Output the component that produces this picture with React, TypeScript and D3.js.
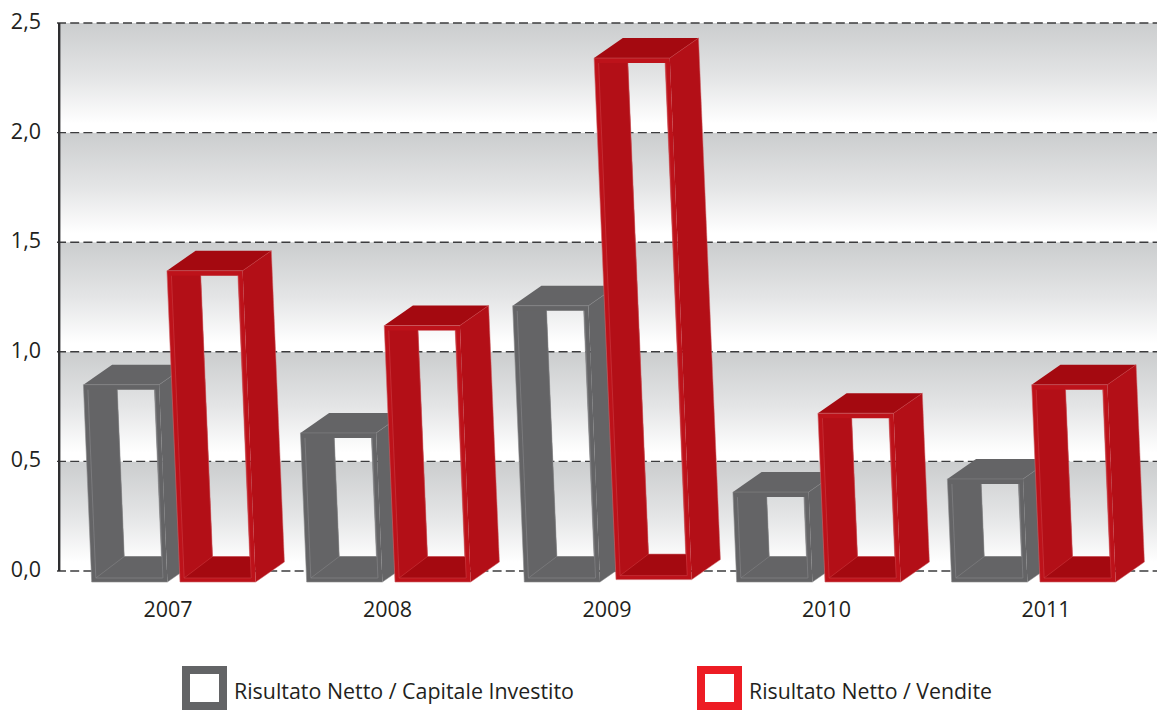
import React from "react";
import * as d3 from "d3";

// Values of the two ratios per year
const years = ["2007", "2008", "2009", "2010", "2011"];
const capitaleValues = [0.85, 0.63, 1.21, 0.36, 0.42];
const venditeValues = [1.37, 1.12, 2.34, 0.72, 0.85];
const yTicks = [0, 0.5, 1, 1.5, 2, 2.5];
const legendLabels = ["Risultato Netto / Capitale Investito", "Risultato Netto / Vendite"];

const WIDTH = 1157;
const HEIGHT = 711;
const FONT = "'Open Sans', 'Noto Sans', sans-serif";
const TEXT = "#231f20";

const y = d3.scaleLinear().domain([0, 2.5]).range([571, 23]);
const baseX = d3.scalePoint<string>().domain(years).range([91.7, 951.7]);
const labelX = d3.scalePoint<string>().domain(years).range([168, 1046]);
const fmt = (v: number) => d3.format(".1f")(v).replace(".", ",");

// Box proportions: every box leans to the left as it rises
const LEAN = 0.042;
const FRONT_W = 75.7;
const DEPTH_X = 28.7;
const DEPTH_Y = -20;
const FLOOR_Y = 582;
const SERIES_GAP = 88.3;

type Pt = [number, number];
const poly = d3.line<Pt>().curve(d3.curveLinearClosed);
const open = d3.line<Pt>();

interface Palette {
  wall: string;
  top: string;
  floor: string;
  frame: string;
  edge: string;
  inset: string;
}

const GREY: Palette = {
  wall: "#646466",
  top: "#646466",
  floor: "#646466",
  frame: "#646466",
  edge: "#8a8a8c",
  inset: "#848486",
};
const RED: Palette = {
  wall: "#b30f17",
  top: "#a40910",
  floor: "#a40910",
  frame: "#bd121a",
  edge: "#cd6469",
  inset: "#c9373d",
};

function FrameBox({
  value,
  left,
  floor,
  colors,
}: {
  value: number;
  left: number;
  floor: number;
  colors: Palette;
}) {
  const top = y(value);
  const at = (dx: number, py: number): Pt => [left + dx - LEAN * (floor - py), py];

  const TL = at(0, top);
  const TR = at(FRONT_W, top);
  const BL = at(0, floor);
  const BR = at(FRONT_W, floor);
  const back = (p: Pt): Pt => [p[0] + DEPTH_X, p[1] + DEPTH_Y];

  const insetTop = top + 5;
  const insetBottom = floor - 4;
  const iTL = at(4.3, insetTop);
  const iTR = at(FRONT_W - 4.3, insetTop);
  const iBL = at(4.3, insetBottom);
  const iBR = at(FRONT_W - 4.3, insetBottom);

  // Opening seen straight through the box
  const holeBottom = floor - 25.5;
  const hTL = at(33.6, insetTop);
  const hTR = at(70.8, insetTop);
  const hBL = at(33.6, holeBottom);
  const hBR = at(70.8, holeBottom);

  const ring = `${poly([TL, TR, BR, BL])} ${poly([hTL, hTR, hBR, hBL])}`;

  return (
    <g>
      <path d={poly([TR, back(TR), back(BR), BR])!} fill={colors.wall} />
      <path d={poly([TL, back(TL), back(TR), TR])!} fill={colors.top} />
      <path d={ring} fill={colors.frame} fillRule="evenodd" />
      <path d={poly([iTL, hTL, hBL, iBL])!} fill={colors.wall} />
      <path d={poly([iBL, hBL, hBR, iBR])!} fill={colors.floor} />
      <path d={open([TL, BL, BR])!} fill="none" stroke={colors.edge} strokeWidth={0.6} />
      <path d={open([hTL, hBL, hBR, hTR])!} fill="none" stroke={colors.edge} strokeWidth={0.6} />
      <path d={open([back(TR), back(BR), BR])!} fill="none" stroke={colors.edge} strokeWidth={0.5} />
      <path d={open([iTL, iBL, iBR, iTR])!} fill="none" stroke={colors.inset} strokeWidth={0.7} />
      <path d={open([iBL, hBL])!} fill="none" stroke={colors.inset} strokeWidth={0.6} />
      <path d={open([TR, back(TR)])!} fill="none" stroke={colors.inset} strokeWidth={0.6} />
      <path d={open([TL, TR])!} fill="none" stroke={colors.edge} strokeWidth={0.5} />
    </g>
  );
}

export default function App() {
  const bands = d3.pairs(yTicks);
  return (
    <svg
      width={WIDTH}
      height={HEIGHT}
      viewBox={`0 0 ${WIDTH} ${HEIGHT}`}
      style={{ position: "absolute", left: 0, top: 0, display: "block", background: "#fff" }}
    >
      <defs>
        <linearGradient id="bandFill" x1="0" y1="0" x2="0" y2="1">
          <stop offset="0" stopColor="#cbcdce" />
          <stop offset="0.5" stopColor="#e4e5e6" />
          <stop offset="0.92" stopColor="#ffffff" />
          <stop offset="1" stopColor="#ffffff" />
        </linearGradient>
      </defs>

      {bands.map(([lo, hi]) => (
        <rect key={hi} x={60} y={y(hi)} width={WIDTH - 60} height={y(lo) - y(hi)} fill="url(#bandFill)" />
      ))}

      {yTicks.map((t) => (
        <g key={t}>
          <line
            x1={57}
            x2={WIDTH}
            y1={y(t)}
            y2={y(t)}
            stroke="#3c3c3e"
            strokeWidth={1.4}
            strokeDasharray="9 4.2"
          />
          <text x={41} y={y(t) + 6} textAnchor="end" fontFamily={FONT} fontSize={21.5} fill={TEXT}>
            {fmt(t)}
          </text>
        </g>
      ))}
      <line x1={59.2} x2={59.2} y1={y(2.5)} y2={y(0)} stroke="#2e2e30" strokeWidth={2.4} />

      {years.map((yr, i) => {
        // The 2009 pair stands slightly apart, its red box a touch higher
        const is2009 = yr === "2009";
        const g = baseX(yr)! + (is2009 ? 2.6 : 0);
        const r = baseX(yr)! + SERIES_GAP + (is2009 ? 6 : 0);
        return (
          <g key={yr}>
            <FrameBox value={capitaleValues[i]} left={g} floor={FLOOR_Y} colors={GREY} />
            <FrameBox value={venditeValues[i]} left={r} floor={is2009 ? FLOOR_Y - 2.4 : FLOOR_Y} colors={RED} />
            <text
              x={labelX(yr)}
              y={617}
              textAnchor="middle"
              fontFamily={FONT}
              fontSize={21.5}
              fill={TEXT}
            >
              {yr}
            </text>
          </g>
        );
      })}

      <g>
        <rect x={186} y={670} width={37} height={36} fill="#fff" stroke="#636466" strokeWidth={8} />
        <text
          x={234}
          y={699}
          fontFamily={FONT}
          fontSize={22.5}
          fill={TEXT}
          textLength={340}
          lengthAdjust="spacingAndGlyphs"
        >
          {legendLabels[0]}
        </text>
        <rect x={701} y={670} width={37} height={36} fill="#fff" stroke="#ed1c24" strokeWidth={8} />
        <text
          x={749}
          y={699}
          fontFamily={FONT}
          fontSize={22.5}
          fill={TEXT}
          textLength={243}
          lengthAdjust="spacingAndGlyphs"
        >
          {legendLabels[1]}
        </text>
      </g>
    </svg>
  );
}
